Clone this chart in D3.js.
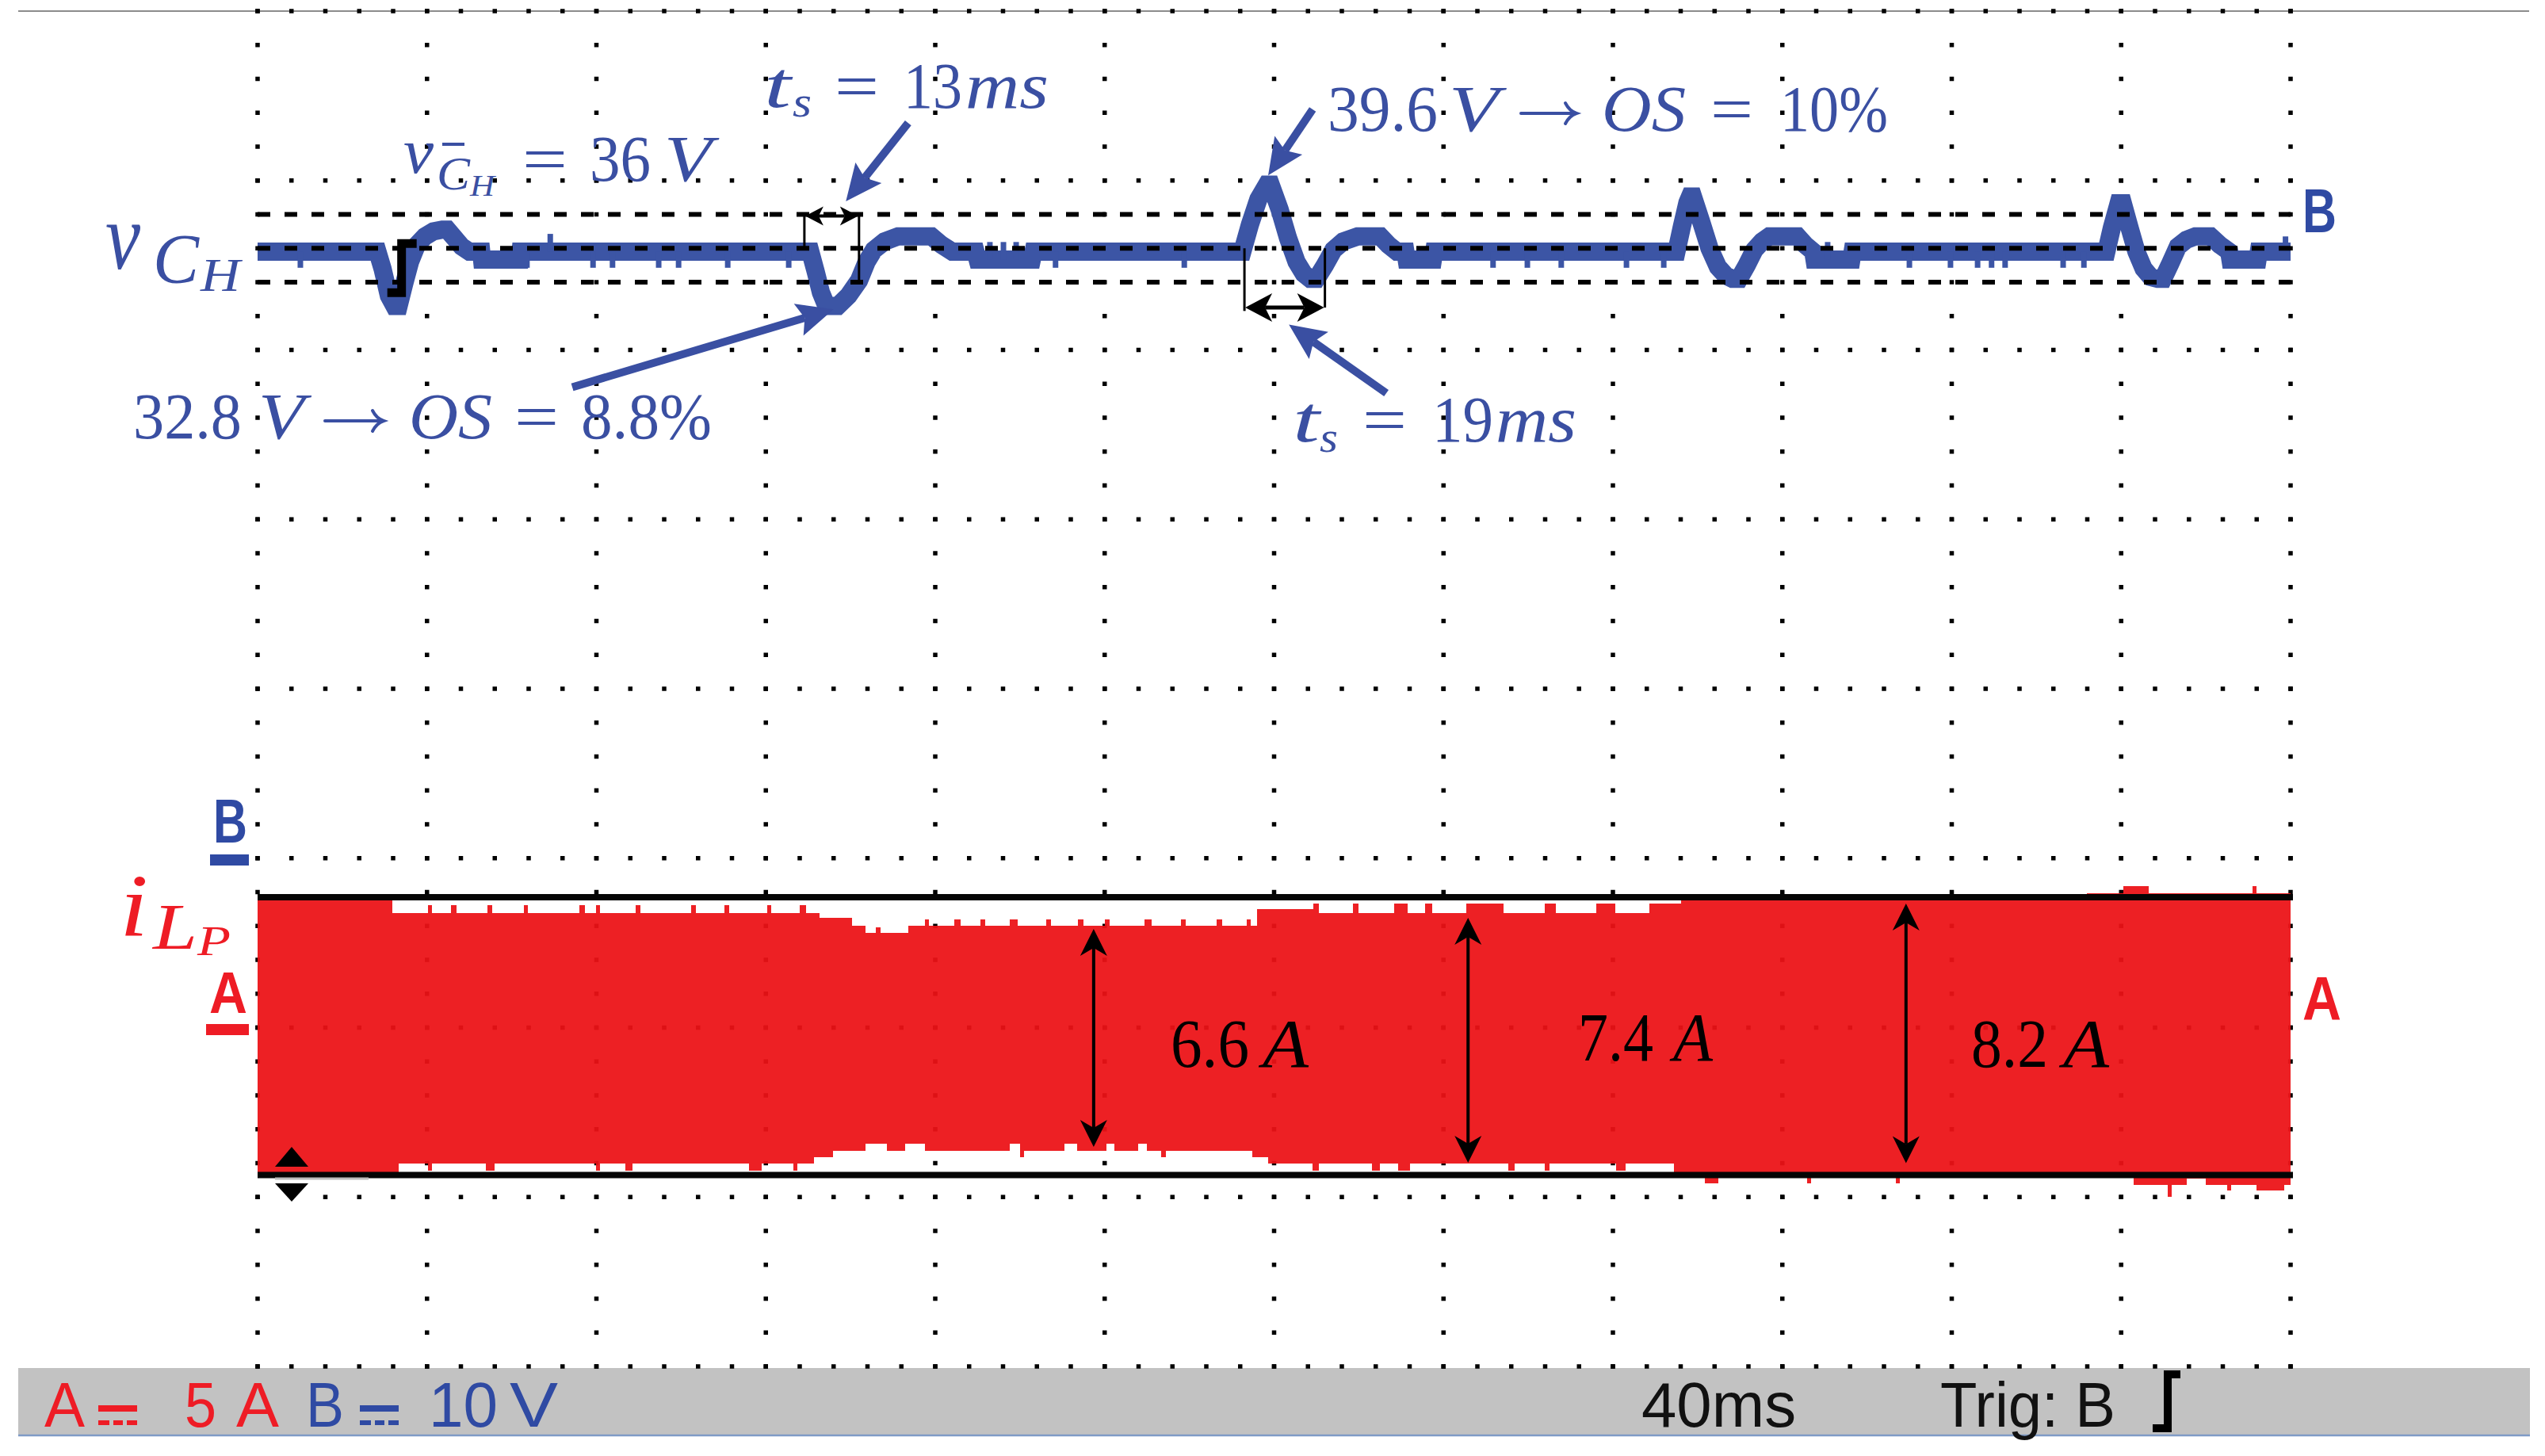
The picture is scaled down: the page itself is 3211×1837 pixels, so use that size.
<!DOCTYPE html>
<html><head><meta charset="utf-8">
<script src="https://cdn.jsdelivr.net/npm/d3@7"></script>
<style>body{margin:0;background:#fff}svg{display:block}</style>
</head><body>
<svg id="c" width="3211" height="1837"></svg>
<script>
// ---------------- DATA ----------------
const timePerDivMs = 40;      // 40 ms/div, 12 divisions
const voltsPerDiv = 10;       // channel B
const ampsPerDiv = 5;         // channel A
const vRefLevels = [38, 36, 34];   // dashed reference lines (V)

// capacitor voltage v_CH : [t (ms), V]
const vTrace = [
 [0,35.8],[28.3,35.8],[29.5,34.8],[31.0,33.2],[32.3,32.6],[33.3,32.6],[34.6,33.9],[36.0,35.2],[37.6,36.2],[39.5,36.7],[41.5,37.0],[43.6,37.1],[44.8,37.1],[46.5,36.6],[48.2,36.1],[50.0,35.8],[52.8,35.8],[53.0,35.33],[61.9,35.33],[62.1,35.8],
 [130.5,35.8],[131.8,34.6],[133.0,33.4],[134.3,32.6],[137.0,32.6],[139.5,33.2],[142.0,34.1],[143.8,35.2],[145.5,35.9],[148.0,36.4],[151.2,36.7],[159.1,36.7],[161.5,36.2],[164.0,35.8],[169.5,35.8],[170.0,35.33],[182.8,35.33],[183.2,35.8],
 [232.5,35.8],[234.3,37.4],[236.3,38.9],[238.3,39.75],[239.2,39.75],[241.3,38.3],[243.3,36.6],[245.3,35.2],[247.0,34.5],[248.5,34.2],[250.0,34.2],[252.0,35.0],[254.0,35.9],[256.3,36.4],[259.7,36.7],[265.1,36.7],[267.0,36.2],[269.0,35.8],[271.0,35.8],[271.3,35.33],[277.5,35.33],[277.8,35.8],
 [335.0,35.8],[336.3,37.3],[337.6,38.7],[338.2,39.05],[338.9,39.05],[340.8,37.6],[342.8,36.0],[344.8,34.9],[346.6,34.4],[348.2,34.2],[349.8,34.2],[351.6,35.0],[353.4,35.9],[355.2,36.4],[356.9,36.7],[363.6,36.7],[365.4,36.2],[367.3,35.8],[367.6,35.33],[376.3,35.33],[376.6,35.8],
 [436.5,35.8],[437.8,37.2],[439.4,38.65],[440.4,38.65],[442.0,37.2],[443.6,35.8],[445.3,34.8],[447.0,34.3],[448.6,34.2],[449.9,34.2],[451.6,35.1],[453.4,36.1],[455.4,36.5],[457.5,36.7],[461.1,36.7],[463.3,36.2],[465.5,35.8],[465.8,35.33],[472.2,35.33],[472.5,35.8],[480,35.8]
];
// short glitches on the voltage trace: [t, from V, to V]
const vGlitches = [
 [10.1,35.8,34.85],[63.6,35.8,34.85],[79.2,35.8,34.85],[83.8,35.8,34.85],[94.7,35.8,34.85],[99.4,35.8,34.85],[111.0,35.8,34.85],[125.4,35.8,34.85],
 [188.4,35.8,34.85],[218.8,35.8,34.85],[291.7,35.8,34.85],[299.8,35.8,34.85],[307.8,35.8,34.85],[323.2,35.8,34.85],[332.0,35.8,34.85],
 [390.0,35.8,34.85],[399.7,35.8,34.85],[406.1,35.8,34.85],[409.4,35.8,34.85],[412.6,35.8,34.85],[426.3,35.8,34.85],[431.2,35.8,34.85],
 [69.1,35.8,36.85],[172.9,35.33,36.37],[176.1,35.33,36.37],[179.1,35.33,36.37],[370.7,35.33,36.37],[478.8,35.8,36.7]
];
// inductor current i_LP envelope (step): [t (ms), A]
const iTop = [
 [0,3.8],[31.8,3.38],[40.2,3.62],[41.2,3.38],[45.7,3.62],[46.9,3.38],[54.3,3.62],[55.3,3.38],[62.9,3.62],[63.9,3.38],[76.0,3.62],[77.2,3.38],[79.9,3.62],[80.9,3.38],[89.3,3.62],[90.3,3.38],[102.4,3.62],[103.4,3.38],[110.2,3.62],[111.4,3.38],[120.3,3.62],[121.3,3.38],[128.0,3.62],[129.5,3.38],
 [132.7,3.25],[140.3,3.01],[143.5,2.8],[146.0,2.95],[147.0,2.8],[153.6,3.01],[157.5,3.2],[158.5,3.01],[164.5,3.2],[166.0,3.01],[170.7,3.2],[171.7,3.01],[177.6,3.2],[179.5,3.01],[186.2,3.2],[187.4,3.01],[193.6,3.2],[195.0,3.01],[200.1,3.2],[201.1,3.01],[209.4,3.2],[211.0,3.01],[218.0,3.2],[219.2,3.01],[226.4,3.2],[227.8,3.01],[233.5,3.2],[234.5,3.01],
 [236.0,3.5],[249.2,3.65],[250.5,3.38],[258.7,3.65],[260.0,3.38],[268.4,3.65],[271.5,3.38],[275.7,3.65],[277.3,3.38],[285.4,3.65],[294.2,3.38],[303.9,3.65],[306.5,3.38],[316.0,3.65],[320.5,3.38],[328.6,3.65],
 [336.0,3.8],[431.9,3.97],[440.5,4.18],[446.5,3.97],[471.0,4.18],[472.0,3.97],[480,3.97]
];
const iBot = [
 [0,-4.3],[33.3,-4.02],[40.2,-4.23],[41.2,-4.02],[53.9,-4.23],[56.0,-4.02],[79.9,-4.23],[80.9,-4.02],[86.8,-4.23],[88.5,-4.02],[116.0,-4.23],[119.0,-4.02],[126.5,-4.23],[127.5,-4.02],
 [131.4,-3.83],[135.9,-3.63],[143.5,-3.43],[148.5,-3.63],[152.8,-3.43],[157.5,-3.63],[177.6,-3.43],[180.0,-3.83],[181.0,-3.63],[190.5,-3.43],[193.5,-3.63],[200.4,-3.43],[202.2,-3.63],[207.9,-3.43],[210.0,-3.63],[213.4,-3.83],[214.4,-3.63],[234.9,-3.83],
 [238.6,-4.02],[249.1,-4.23],[250.5,-4.02],[263.1,-4.23],[265.0,-4.02],[269.2,-4.23],[272.0,-4.02],[295.3,-4.23],[296.8,-4.02],[303.9,-4.23],[305.0,-4.02],[320.8,-4.23],[323.0,-4.02],
 [334.4,-4.3],[341.7,-4.6],[344.9,-4.3],[365.8,-4.6],[366.8,-4.3],[386.8,-4.6],[387.8,-4.3],[443.0,-4.64],[451.0,-4.99],[452.0,-4.64],[455.5,-4.45],[460.0,-4.64],[465.0,-4.8],[466.0,-4.64],[472.0,-4.8],[478.5,-4.64],[480,-4.64]
];
const iEnvelopeMarks = [3.85, -4.35];           // black max/min lines (A)
// ripple measurement arrows: t, top tip A, bottom tip A, label
const ripples = [
 {t:197.4, top:2.91, bot:-3.52, label:"6.6"},
 {t:285.8, top:3.24, bot:-3.99, label:"7.4"},
 {t:389.2, top:3.66, bot:-4.0,  label:"8.2"}
];
// settling-time markers: start, end (ms), top V, bottom V (per side), arrow V
const settles = [
 {t0:129.1, t1:142.0, topV:38.1, botL:36.0, botR:34.0, arrowV:38.0, small:true},
 {t0:233.0, t1:252.0, topV:36.0, botL:32.3, botR:32.5, arrowV:32.5, small:false}
];
// blue annotation arrows in data units: [t,V] from -> to
const noteArrows = [
 [[153.6,43.4],[138.9,38.77]],
 [[74.3,27.8],[136.0,32.4]],
 [[249.1,44.2],[238.6,40.3]],
 [[266.5,27.45],[243.5,31.5]]
];
const trigTimeMs = 34.0;

// ---------------- SCALES ----------------
const X0 = 325, X1 = 2890, Y0 = 14, Y1 = 1724;
const x  = d3.scaleLinear().domain([0, 12 * timePerDivMs]).range([X0, X1]);
const yV = d3.scaleLinear().domain([-3 * voltsPerDiv, 5 * voltsPerDiv]).range([Y1, Y0]);
const yI = d3.scaleLinear().domain([-2 * ampsPerDiv, 6 * ampsPerDiv]).range([Y1, Y0]);
const gy = d3.scaleLinear().domain([0, 8]).range([Y0, Y1]);

const svg = d3.select('#c');
const BLUE = '#3c55a5', BLUE_T = '#3a4fa2', RED = '#ec1216', SB_RED = '#ee1c25', SB_BLUE = '#2f4aa3';

function txt(str, xx, yy, size, o = {}) {
  const t = svg.append('text').attr('x', xx).attr('y', yy).attr('font-size', size)
    .attr('font-family', o.family || '"Liberation Serif", "DejaVu Serif", serif')
    .attr('fill', o.fill || '#000')
    .attr('font-style', o.italic ? 'italic' : 'normal')
    .attr('font-weight', o.bold ? 'bold' : 'normal').text(str);
  if (o.w) t.attr('textLength', o.w).attr('lengthAdjust', 'spacingAndGlyphs');
  return t;
}
// math "→" drawn as a stroked arrow
function mathArrow(x0, w, base, col) {
  const y = base - 22;
  const g = svg.append('g').attr('fill', 'none').attr('stroke', col).attr('stroke-width', 4).attr('stroke-linecap', 'round');
  g.append('line').attr('x1', x0).attr('x2', x0 + w - 2).attr('y1', y).attr('y2', y);
  g.append('path').attr('d', `M${x0 + w - 14},${y - 13}Q${x0 + w - 9},${y - 3} ${x0 + w},${y}Q${x0 + w - 9},${y + 3} ${x0 + w - 14},${y + 13}`);
}

// top frame line + status bar
svg.append('line').attr('x1', 23).attr('x2', 3191).attr('y1', Y0).attr('y2', Y0)
  .attr('stroke', '#8c8c8c').attr('stroke-width', 2);
svg.append('rect').attr('x', 23).attr('y', 1726).attr('width', 3169).attr('height', 85).attr('fill', '#c2c2c2');
svg.append('line').attr('x1', 23).attr('x2', 3192).attr('y1', 1811).attr('y2', 1811)
  .attr('stroke', '#7f9bc6').attr('stroke-width', 2.5);

// dotted graticule
const gDots = svg.append('g').attr('fill', '#000');
const majorT = d3.range(0, 12 * timePerDivMs + 1, timePerDivMs);
const minorT = d3.range(0, 12 * timePerDivMs + 0.1, timePerDivMs / 5);
const dots = [];
majorT.forEach(t => d3.range(0, 40.1, 1).forEach(j => dots.push([x(t), gy(j / 5)])));
d3.range(0, 9).forEach(k => minorT.forEach(t => dots.push([x(t), gy(k)])));
gDots.selectAll('rect').data(dots).join('rect')
  .attr('x', d => d[0] - 2.75).attr('y', d => d[1] - 2.75).attr('width', 5.5).attr('height', 5.5);

// ---- current envelope (channel A) ----
function stepPts(arr) {
  const out = [];
  arr.forEach((d, i) => { out.push([d[0], d[1]]); if (i < arr.length - 1) out.push([arr[i + 1][0], d[1]]); });
  return out;
}
const poly = stepPts(iTop).concat(stepPts(iBot).reverse());
svg.append('path').attr('d', d3.line().x(d => x(d[0])).y(d => yI(d[1]))(poly) + 'Z')
  .attr('fill', RED).attr('fill-opacity', 0.94).attr('shape-rendering', 'crispEdges');
iEnvelopeMarks.forEach(a => svg.append('line').attr('x1', X0).attr('x2', X1 + 3)
  .attr('y1', yI(a)).attr('y2', yI(a)).attr('stroke', '#050505').attr('stroke-width', 8));

// ---- voltage trace (channel B) ----
svg.append('path').attr('d', d3.line().x(d => x(d[0])).y(d => yV(d[1]))(vTrace))
  .attr('fill', 'none').attr('stroke', BLUE).attr('stroke-width', 23)
  .attr('stroke-linejoin', 'miter').attr('stroke-miterlimit', 1.6);
svg.append('g').selectAll('line').data(vGlitches).join('line')
  .attr('x1', d => x(d[0])).attr('x2', d => x(d[0]))
  .attr('y1', d => yV(d[1])).attr('y2', d => yV(d[2]))
  .attr('stroke', BLUE).attr('stroke-width', 7);

// dashed reference lines
svg.append('g').selectAll('line').data(vRefLevels).join('line')
  .attr('x1', X0).attr('x2', X1).attr('y1', d => yV(d)).attr('y2', d => yV(d))
  .attr('stroke', '#000').attr('stroke-width', 6).attr('stroke-dasharray', '16 18');

// trigger marker on trace
const tx = x(trigTimeMs), ty = yV(36);
svg.append('path').attr('d', `M${tx + 19},${ty - 6}H${tx}V${ty + 56}H${tx - 18}`)
  .attr('fill', 'none').attr('stroke', '#000').attr('stroke-width', 11);

// ---- arrow helpers ----
function head(x1, y1, x2, y2, L, W, notch, fill) {
  const dx = x2 - x1, dy = y2 - y1, len = Math.hypot(dx, dy), ux = dx / len, uy = dy / len;
  const bx = x2 - ux * L, by = y2 - uy * L, px = -uy, py = ux;
  const nx = x2 - ux * (L - notch), ny = y2 - uy * (L - notch);
  svg.append('path').attr('d', `M${x2},${y2}L${bx + px * W},${by + py * W}L${nx},${ny}L${bx - px * W},${by - py * W}Z`).attr('fill', fill);
  return [nx, ny];
}
function arrow(x1, y1, x2, y2, o) {
  const n = head(x1, y1, x2, y2, o.L, o.W, o.notch, o.color);
  let s = [x1, y1];
  if (o.both) s = head(x2, y2, x1, y1, o.L, o.W, o.notch, o.color);
  svg.append('line').attr('x1', s[0]).attr('y1', s[1]).attr('x2', n[0]).attr('y2', n[1])
    .attr('stroke', o.color).attr('stroke-width', o.sw);
}

// settling-time markers
settles.forEach(s => {
  const xa = x(s.t0), xb = x(s.t1);
  svg.append('line').attr('x1', xa).attr('x2', xa).attr('y1', yV(s.topV)).attr('y2', yV(s.botL)).attr('stroke', '#000').attr('stroke-width', 3);
  svg.append('line').attr('x1', xb).attr('x2', xb).attr('y1', yV(s.topV)).attr('y2', yV(s.botR)).attr('stroke', '#000').attr('stroke-width', 3);
  const ay = yV(s.arrowV) + (s.small ? 2 : 0);
  arrow(xa + 1, ay, xb - 1, ay, s.small ? {L: 23, W: 12, notch: 6, color: '#000', sw: 4, both: true}
                                        : {L: 34, W: 18, notch: 9, color: '#000', sw: 5, both: true});
});

// blue annotation arrows
noteArrows.forEach(a => arrow(x(a[0][0]), yV(a[0][1]), x(a[1][0]), yV(a[1][1]),
  {L: 46, W: 21, notch: 8, color: BLUE_T, sw: 10}));

// ripple arrows
ripples.forEach(r => arrow(x(r.t), yI(r.top), x(r.t), yI(r.bot),
  {L: 34, W: 17, notch: 10, color: '#000', sw: 4, both: true}));

// ---- ground / trigger markers ----
svg.append('path').attr('d', 'M347,1472L368,1447L389,1472Z').attr('fill', '#000');
svg.append('path').attr('d', 'M347,1493L389,1493L368,1516Z').attr('fill', '#000');
svg.append('line').attr('x1', 347).attr('x2', 465).attr('y1', 1487).attr('y2', 1487).attr('stroke', '#bdbdbd').attr('stroke-width', 3);

const SANS = '"Liberation Sans", Arial, sans-serif';
txt('B', 269, 1063, 78, {family: SANS, bold: true, fill: SB_BLUE, w: 43});
svg.append('rect').attr('x', 265).attr('y', 1078).attr('width', 49).attr('height', 14).attr('fill', SB_BLUE);
txt('A', 264, 1278, 74, {family: SANS, bold: true, fill: SB_RED, w: 48});
svg.append('rect').attr('x', 260).attr('y', 1292).attr('width', 54).attr('height', 14).attr('fill', SB_RED);
txt('B', 2905, 293, 78, {family: SANS, bold: true, fill: SB_BLUE, w: 43});
txt('A', 2905, 1287, 78, {family: SANS, bold: true, fill: SB_RED, w: 49});

// ---- channel labels ----
txt('v', 133, 339, 120, {italic: true, fill: BLUE_T, w: 44});
txt('C', 193, 356, 88, {italic: true, fill: BLUE_T, w: 58});
txt('H', 253, 367, 60, {italic: true, fill: BLUE_T, w: 50});
txt('i', 151, 1181, 112, {italic: true, fill: SB_RED, w: 36});
txt('L', 193, 1197, 82, {italic: true, fill: SB_RED, w: 56});
txt('P', 249, 1205, 52, {italic: true, fill: SB_RED, w: 42});

// ---- blue annotations ----
const B = {fill: BLUE_T};
// mean value
txt('v', 509, 218, 80, {...B, italic: true, w: 38});
svg.append('line').attr('x1', 558).attr('x2', 586).attr('y1', 182).attr('y2', 182).attr('stroke', BLUE_T).attr('stroke-width', 4);
txt('C', 551, 239, 60, {...B, italic: true, w: 42});
txt('H', 593, 247, 38, {...B, italic: true, w: 31});
txt('=', 659, 228, 80, {...B, w: 57});
txt('36', 744, 228, 82, {...B, w: 77});
txt('V', 838, 228, 82, {...B, italic: true, w: 60});
// ts = 13ms
txt('t', 964, 135, 82, {...B, italic: true, w: 34});
txt('s', 1000, 147, 55, {...B, italic: true, w: 24});
txt('=', 1053, 136, 80, {...B, w: 56});
txt('13', 1140, 136, 82, {...B, w: 74});
txt('ms', 1218, 136, 82, {...B, italic: true, w: 105});
// 32.8 V -> OS = 8.8%
txt('32.8', 168, 553, 82, {...B, w: 137});
txt('V', 326, 553, 82, {...B, italic: true, w: 58});
mathArrow(410, 74, 553, BLUE_T);
txt('OS', 516, 553, 82, {...B, italic: true, w: 105});
txt('=', 649, 553, 80, {...B, w: 56});
txt('8.8%', 733, 553, 82, {...B, w: 165});
// 39.6 V -> OS = 10%
txt('39.6', 1675, 165, 82, {...B, w: 139});
txt('V', 1828, 165, 82, {...B, italic: true, w: 63});
mathArrow(1919, 70, 165, BLUE_T);
txt('OS', 2021, 165, 82, {...B, italic: true, w: 106});
txt('=', 2158, 165, 80, {...B, w: 54});
txt('10%', 2246, 165, 82, {...B, w: 136});
// ts = 19ms
txt('t', 1631, 557, 82, {...B, italic: true, w: 34});
txt('s', 1665, 570, 55, {...B, italic: true, w: 23});
txt('=', 1719, 557, 80, {...B, w: 56});
txt('19', 1807, 557, 82, {...B, w: 77});
txt('ms', 1887, 557, 82, {...B, italic: true, w: 102});

// ripple labels
const rippleLabelPos = [[1477, 1346, 99, 1593, 58], [1991, 1338, 95, 2111, 50], [2487, 1346, 97, 2603, 58]];
ripples.forEach((r, i) => {
  const p = rippleLabelPos[i];
  txt(r.label, p[0], p[1], 86, {w: p[2]});
  txt('A', p[3], p[1], 86, {italic: true, w: p[4]});
});

// ---- status bar ----
txt('A', 56, 1800, 80, {family: SANS, fill: SB_RED, w: 51});
function dcSym(x0, col) {
  svg.append('rect').attr('x', x0).attr('y', 1773).attr('width', 49).attr('height', 8).attr('fill', col);
  [[0, 14], [19, 12], [36, 13]].forEach(d => svg.append('rect').attr('x', x0 + d[0]).attr('y', 1792).attr('width', d[1]).attr('height', 6).attr('fill', col));
}
dcSym(124, SB_RED);
txt('5', 233, 1800, 80, {family: SANS, fill: SB_RED, w: 40});
txt('A', 298, 1800, 80, {family: SANS, fill: SB_RED, w: 54});
txt('B', 386, 1800, 80, {family: SANS, fill: SB_BLUE, w: 48});
dcSym(454, SB_BLUE);
txt('10', 541, 1800, 80, {family: SANS, fill: SB_BLUE, w: 87});
txt('V', 643, 1800, 80, {family: SANS, fill: SB_BLUE, w: 61});
txt('40ms', 2071, 1800, 80, {family: SANS, fill: '#111', w: 195});
txt('Trig: B', 2448, 1800, 80, {family: SANS, fill: '#111', w: 221});
svg.append('path').attr('d', 'M2751,1734H2735V1802H2716').attr('fill', 'none').attr('stroke', '#000').attr('stroke-width', 10);
</script>
</body></html>
